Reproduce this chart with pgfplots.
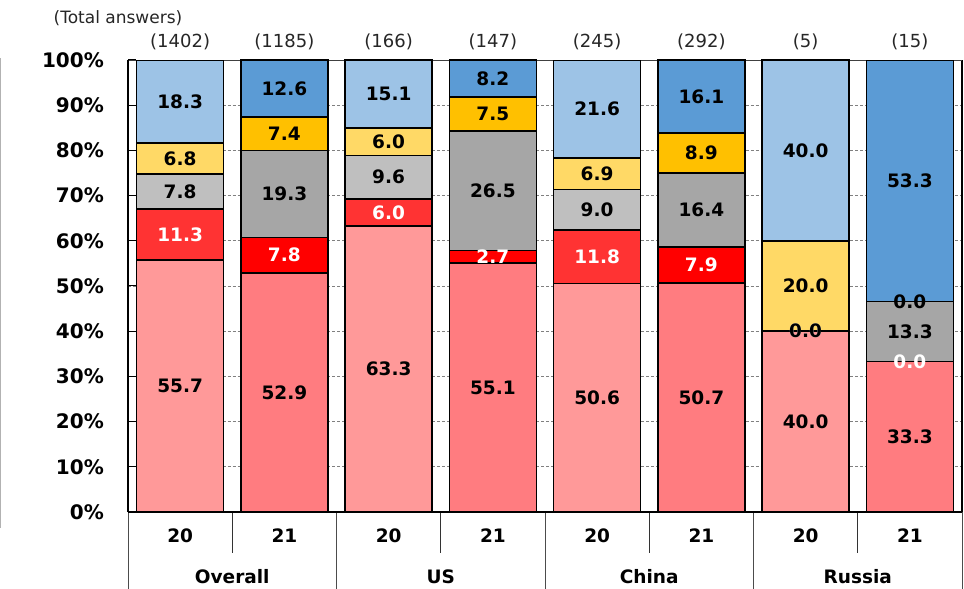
\documentclass[border=0pt]{standalone}
\usepackage{fontspec}
\setmainfont{DejaVu Sans}
\usepackage{pgfplots}
\usepackage{pgfplotstable}
\pgfplotsset{compat=1.18}

% 2020 palette (lighter) and 2021 palette (stronger)
\definecolor{pinkA}{HTML}{FF9999}
\definecolor{redA}{HTML}{FF3333}
\definecolor{grayA}{HTML}{BFBFBF}
\definecolor{yellowA}{HTML}{FFD966}
\definecolor{blueA}{HTML}{9DC3E6}
\definecolor{pinkB}{HTML}{FF7C80}
\definecolor{redB}{HTML}{FF0000}
\definecolor{grayB}{HTML}{A6A6A6}
\definecolor{yellowB}{HTML}{FFC000}
\definecolor{blueB}{HTML}{5B9BD5}

% shares in percent, bottom to top
\pgfplotstableread{
x pink red gray yellow blue
0 55.7 11.3 7.8 6.8 18.3
2 63.3 6.0 9.6 6.0 15.1
4 50.6 11.8 9.0 6.9 21.6
6 40.0 0.0 0.0 20.0 40.0
}\yearA
\pgfplotstableread{
x pink red gray yellow blue
1 52.9 7.8 19.3 7.4 12.6
3 55.1 2.7 26.5 7.5 8.2
5 50.7 7.9 16.4 8.9 16.1
7 33.3 0.0 13.3 0.0 53.3
}\yearB

\newcommand\lblfont{\fontsize{18.5bp}{22bp}\selectfont\bfseries}
\newcommand\tickfont{\fontsize{20bp}{22bp}\selectfont\bfseries}
\newcommand\cntfont{\fontsize{18bp}{22bp}\selectfont}

\pgfplotsset{
  base/.style={scale only axis, width=834bp, height=452bp,
    at={(128bp,77bp)}, anchor=south west,
    xmin=-0.5, xmax=7.5, ymin=0, ymax=100, clip=false},
  frame/.style={base, ybar stacked, bar width=87bp},
  seg/.style={fill=#1, draw=black, line width=1.5bp},
  lbl/.style={draw=none, mark=none, point meta=explicit,
    nodes near coords={\pgfmathprintnumber[fixed,fixed zerofill,precision=1,assume math mode=true]{\pgfplotspointmeta}},
    nodes near coords style={font=\lblfont, anchor=center, inner sep=0pt, text=#1}},
  lbl/.default=black,
}

% one value label in the middle of every segment of a table's bars
\newcommand\seglabels[1]{%
  \addplot[lbl] table[x=x, meta=pink,
    y expr=\thisrow{pink}/2] {#1};
  \addplot[lbl=white] table[x=x, meta=red,
    y expr=\thisrow{pink}+\thisrow{red}/2] {#1};
  \addplot[lbl] table[x=x, meta=gray,
    y expr=\thisrow{pink}+\thisrow{red}+\thisrow{gray}/2] {#1};
  \addplot[lbl] table[x=x, meta=yellow,
    y expr=\thisrow{pink}+\thisrow{red}+\thisrow{gray}+\thisrow{yellow}/2] {#1};
  \addplot[lbl] table[x=x, meta=blue,
    y expr=\thisrow{pink}+\thisrow{red}+\thisrow{gray}+\thisrow{yellow}+\thisrow{blue}/2] {#1};
}

\begin{document}
\begin{tikzpicture}
\useasboundingbox (0,0) rectangle (964bp,589bp);
\draw[gray!60, line width=1bp] (0.5bp,61bp) -- (0.5bp,531bp);

% 2020 bars, with the axis itself
\begin{axis}[frame,
  axis line style={draw=none},
  ytick={0,10,...,100},
  yticklabels={0\%,10\%,20\%,30\%,40\%,50\%,60\%,70\%,80\%,90\%,100\%},
  ytick pos=left, tick align=inside, major tick length=8bp,
  ytick style={black, line width=1bp},
  yticklabel style={font=\tickfont, anchor=east, inner sep=0pt, xshift=-24bp},
  ymajorgrids, grid style={gray, densely dashed, line width=0.6bp},
  xtick={0,...,7}, xticklabels={20,21,20,21,20,21,20,21},
  xtick style={draw=none},
  xticklabel style={font=\lblfont, anchor=center, yshift=-23.5bp},
]
\addplot[seg=pinkA] table[y=pink] {\yearA};
\addplot[seg=redA] table[y=red] {\yearA};
\addplot[seg=grayA] table[y=gray] {\yearA};
\addplot[seg=yellowA] table[y=yellow] {\yearA};
\addplot[seg=blueA] table[y=blue] {\yearA};

% frame and category separators
\draw[black, line width=1.5bp] (axis cs:-0.5,0) -- (axis cs:-0.5,100);
\draw[black, line width=1.5bp] (axis cs:-0.5,0) -- (axis cs:7.5,0);
\draw[black!75, line width=0.8bp] (axis cs:-0.5,100) -- (axis cs:7.5,100);
\draw[black, line width=1.5bp] (axis cs:7.5,0) -- (axis cs:7.5,100);
\pgfplotsinvokeforeach{-0.5,1.5,3.5,5.5,7.5}{
  \draw[black!70, line width=0.8bp] (axis cs:#1,0) -- (axis cs:#1,-17.2);
}
\pgfplotsinvokeforeach{0.5,2.5,4.5,6.5}{
  \draw[black!80, line width=0.8bp] (axis cs:#1,0) -- (axis cs:#1,-9.1);
}

\node[font=\lblfont] at (axis cs:0.5,-14.4) {Overall};
\node[font=\lblfont] at (axis cs:2.5,-14.4) {US};
\node[font=\lblfont] at (axis cs:4.5,-14.4) {China};
\node[font=\lblfont] at (axis cs:6.5,-14.4) {Russia};

\node[font=\cntfont, text=black!85, yshift=18bp] at (axis cs:0,100) {(1402)};
\node[font=\cntfont, text=black!85, yshift=18bp] at (axis cs:1,100) {(1185)};
\node[font=\cntfont, text=black!85, yshift=18bp] at (axis cs:2,100) {(166)};
\node[font=\cntfont, text=black!85, yshift=18bp] at (axis cs:3,100) {(147)};
\node[font=\cntfont, text=black!85, yshift=18bp] at (axis cs:4,100) {(245)};
\node[font=\cntfont, text=black!85, yshift=18bp] at (axis cs:5,100) {(292)};
\node[font=\cntfont, text=black!85, yshift=18bp] at (axis cs:6,100) {(5)};
\node[font=\cntfont, text=black!85, yshift=18bp] at (axis cs:7,100) {(15)};
\end{axis}

% 2021 bars
\begin{axis}[frame, hide axis]
\addplot[seg=pinkB] table[y=pink] {\yearB};
\addplot[seg=redB] table[y=red] {\yearB};
\addplot[seg=grayB] table[y=gray] {\yearB};
\addplot[seg=yellowB] table[y=yellow] {\yearB};
\addplot[seg=blueB] table[y=blue] {\yearB};
\end{axis}

% value labels, centred in each segment
\begin{axis}[base, hide axis]
\seglabels{\yearA}
\seglabels{\yearB}
\end{axis}

\node[font=\fontsize{17bp}{20bp}\selectfont, text=black!85] at (118bp,571bp) {(Total answers)};
\end{tikzpicture}
\end{document}
